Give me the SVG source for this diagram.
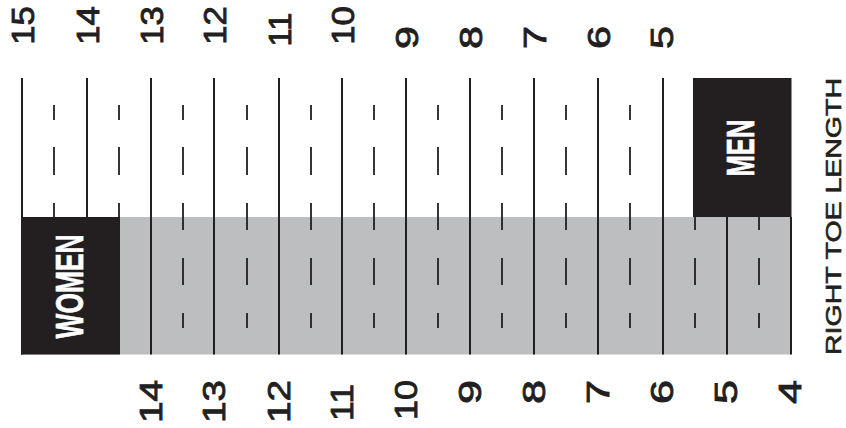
<svg xmlns="http://www.w3.org/2000/svg" width="846" height="428" viewBox="0 0 846 428">
  <style>
    .ln { stroke: #231f20; stroke-width: 2; fill: none; }
    .dash { stroke: #231f20; stroke-width: 1.8; fill: none; }
    .box { fill: #231f20; }
    .band { fill: #bcbec0; }
    .num { font-family: "Liberation Sans", Arial, sans-serif; font-size: 32px; fill: #231f20; stroke: #231f20; stroke-width: 0.9; text-anchor: middle; }
    .lbl { font-family: "Liberation Sans", Arial, sans-serif; font-weight: bold; fill: #ffffff; stroke: #ffffff; stroke-width: 0.6; text-anchor: middle; }
    .axis { font-family: "Liberation Sans", Arial, sans-serif; font-size: 22.5px; fill: #231f20; stroke: #231f20; stroke-width: 0.6; text-anchor: middle; }
  </style>
  <rect width="846" height="428" fill="#ffffff"/>

  <g id="chart">
    <rect class="band" x="22" y="217" width="769" height="137.5"/>
    <path class="ln" d="M22 78V354.5 M87 78V217 M151 78V354.5 M214 78V354.5 M279 78V354.5 M342 78V354.5 M406 78V354.5 M470 78V354.5 M534 78V354.5 M598 78V354.5 M663 78V354.5 M727 217V354.5 M791 217V354.5"/>
    <path class="dash" d="
      M54 105V120 M54 147V175 M54 203V230
      M119 105V120 M119 147V175 M119 203V230
      M183 105V120 M183 147V175 M183 203V230 M183 258V285 M183 313V328
      M247 105V120 M247 147V175 M247 203V230 M247 258V285 M247 313V328
      M311 105V120 M311 147V175 M311 203V230 M311 258V285 M311 313V328
      M374 105V120 M374 147V175 M374 203V230 M374 258V285 M374 313V328
      M438 105V120 M438 147V175 M438 203V230 M438 258V285 M438 313V328
      M502 105V120 M502 147V175 M502 203V230 M502 258V285 M502 313V328
      M566 105V120 M566 147V175 M566 203V230 M566 258V285 M566 313V328
      M630 105V120 M630 147V175 M630 203V230 M630 258V285 M630 313V328
      M695 203V230 M695 258V285 M695 313V328
      M759 203V230 M759 258V285 M759 313V328"/>
  </g>

  <g id="women">
    <rect class="box" x="21" y="217" width="99" height="137.5"/>
    <text class="lbl" font-size="39" transform="translate(83 286.5) rotate(-90)" textLength="104" lengthAdjust="spacingAndGlyphs">WOMEN</text>
  </g>

  <g id="men">
    <rect class="box" x="693" y="78" width="98.5" height="139"/>
    <text class="lbl" font-size="38" transform="translate(754 148) rotate(-90)" textLength="57" lengthAdjust="spacingAndGlyphs">MEN</text>
  </g>

  <g id="top-scale">
    <text class="num" transform="translate(33.5 25.5) rotate(-90)" textLength="38.5" lengthAdjust="spacingAndGlyphs">15</text>
    <text class="num" transform="translate(98.5 25.5) rotate(-90)" textLength="38.5" lengthAdjust="spacingAndGlyphs">14</text>
    <text class="num" transform="translate(162.5 25.5) rotate(-90)" textLength="38.5" lengthAdjust="spacingAndGlyphs">13</text>
    <text class="num" transform="translate(225.5 25.5) rotate(-90)" textLength="38.5" lengthAdjust="spacingAndGlyphs">12</text>
    <text class="num" transform="translate(290.5 29.5) rotate(-90)" textLength="34" lengthAdjust="spacingAndGlyphs">11</text>
    <text class="num" transform="translate(353.5 25.5) rotate(-90)" textLength="38.5" lengthAdjust="spacingAndGlyphs">10</text>
    <text class="num" transform="translate(417.5 37.5) rotate(-90)" textLength="23" lengthAdjust="spacingAndGlyphs">9</text>
    <text class="num" transform="translate(481.5 37.5) rotate(-90)" textLength="23" lengthAdjust="spacingAndGlyphs">8</text>
    <text class="num" transform="translate(545.5 37.5) rotate(-90)" textLength="23" lengthAdjust="spacingAndGlyphs">7</text>
    <text class="num" transform="translate(609.5 37.5) rotate(-90)" textLength="23" lengthAdjust="spacingAndGlyphs">6</text>
    <text class="num" transform="translate(673 37.5) rotate(-90)" textLength="23" lengthAdjust="spacingAndGlyphs">5</text>
  </g>

  <g id="bottom-scale">
    <text class="num" transform="translate(162 401.5) rotate(-90)" textLength="43" lengthAdjust="spacingAndGlyphs">14</text>
    <text class="num" transform="translate(225 401.5) rotate(-90)" textLength="43" lengthAdjust="spacingAndGlyphs">13</text>
    <text class="num" transform="translate(290 401.5) rotate(-90)" textLength="43" lengthAdjust="spacingAndGlyphs">12</text>
    <text class="num" transform="translate(353 402.5) rotate(-90)" textLength="37" lengthAdjust="spacingAndGlyphs">11</text>
    <text class="num" transform="translate(417 400) rotate(-90)" textLength="40" lengthAdjust="spacingAndGlyphs">10</text>
    <text class="num" transform="translate(481 392) rotate(-90)" textLength="24" lengthAdjust="spacingAndGlyphs">9</text>
    <text class="num" transform="translate(545 392) rotate(-90)" textLength="24" lengthAdjust="spacingAndGlyphs">8</text>
    <text class="num" transform="translate(609 392) rotate(-90)" textLength="24" lengthAdjust="spacingAndGlyphs">7</text>
    <text class="num" transform="translate(673 392) rotate(-90)" textLength="24" lengthAdjust="spacingAndGlyphs">6</text>
    <text class="num" transform="translate(737 392) rotate(-90)" textLength="24" lengthAdjust="spacingAndGlyphs">5</text>
    <text class="num" transform="translate(801 392) rotate(-90)" textLength="24" lengthAdjust="spacingAndGlyphs">4</text>
  </g>

  <g id="axis-label">
    <text class="axis" transform="translate(840.5 216.5) rotate(-90)" textLength="277" lengthAdjust="spacingAndGlyphs">RIGHT TOE LENGTH</text>
  </g>
</svg>
